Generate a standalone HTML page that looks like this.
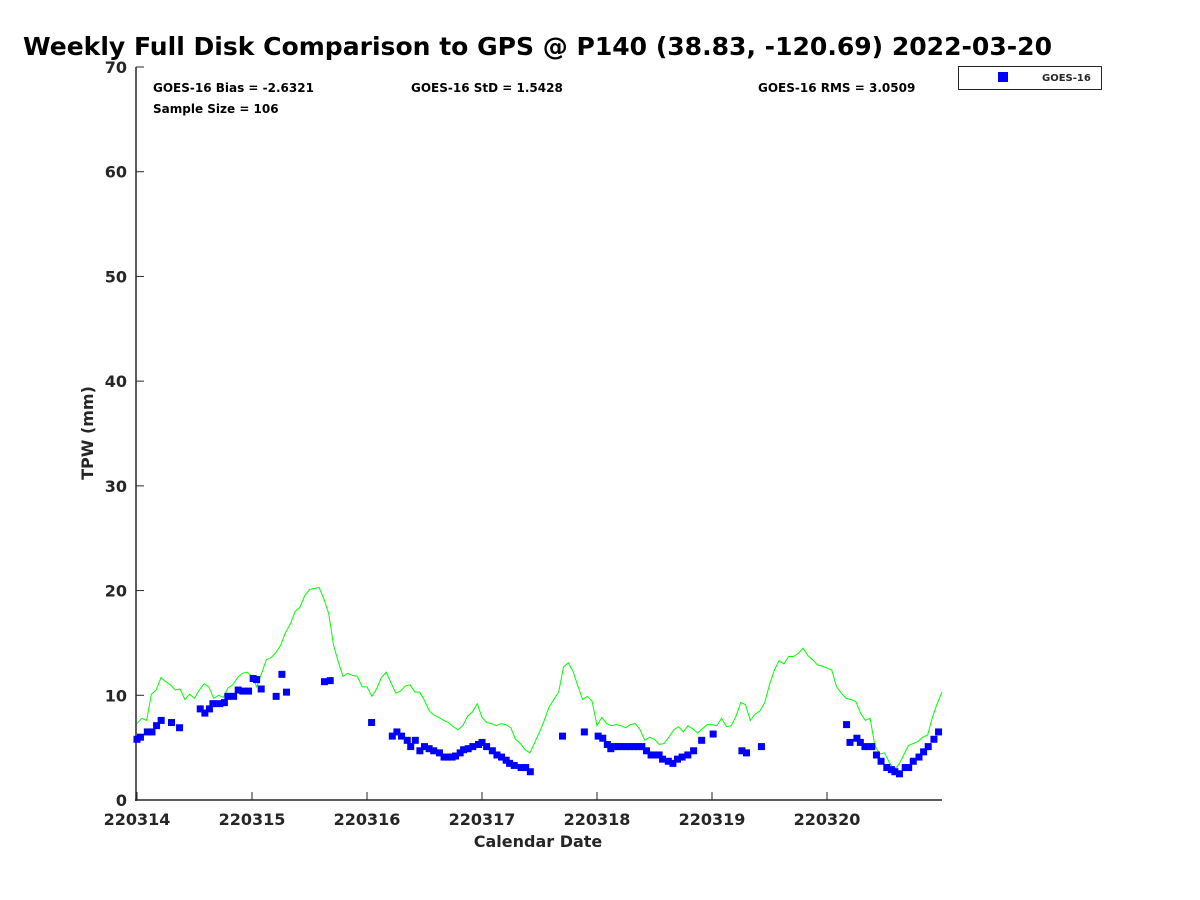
<!DOCTYPE html>
<html><head><meta charset="utf-8"><style>
html,body{margin:0;padding:0;background:#fff;}
svg{display:block;font-family:"DejaVu Sans","Liberation Sans",sans-serif;font-weight:bold;}
</style></head><body>
<svg id="chart" width="1200" height="900" viewBox="0 0 1200 900" xmlns="http://www.w3.org/2000/svg">
<rect width="1200" height="900" fill="#fff"/>
<text x="23" y="55" font-size="25" fill="#000" textLength="1029" lengthAdjust="spacingAndGlyphs">Weekly Full Disk Comparison to GPS @ P140 (38.83, -120.69) 2022-03-20</text>
<g id="axes"></g>
<g id="gps"></g>
<g id="goes"></g>
<text x="153" y="92" font-size="12" fill="#000">GOES-16 Bias = -2.6321</text>
<text x="411" y="92" font-size="12" fill="#000">GOES-16 StD = 1.5428</text>
<text x="758" y="92" font-size="12" fill="#000">GOES-16 RMS = 3.0509</text>
<text x="153" y="113" font-size="12" fill="#000">Sample Size = 106</text>
<g>
<rect x="958.5" y="66.5" width="143" height="23" fill="#fff" stroke="#262626" stroke-width="1"/>
<rect x="998" y="72" width="10" height="10" fill="#0000ff"/>
<text x="1042" y="81" font-size="10" fill="#262626">GOES-16</text>
</g>
<text x="538" y="847" font-size="16" fill="#262626" text-anchor="middle">Calendar Date</text>
<text x="0" y="0" font-size="16" fill="#262626" text-anchor="middle" transform="translate(93,433) rotate(-90)">TPW (mm)</text>
</svg>
<script>
const xTickLabels = ["220314","220315","220316","220317","220318","220319","220320"];
const yTicks = [0,10,20,30,40,50,60,70];
// GPS TPW hourly values (mm), starting at day 0 (220314 00Z)
const gpsStepHours = 1;
const gpsValues = [7.3,7.8,7.6,10.1,10.5,11.7,11.3,11,10.5,10.6,9.6,10.1,9.7,10.5,11.1,10.8,9.7,10,9.8,10.7,11,11.7,12.1,12.2,11.8,10.8,12.1,13.4,13.6,14.1,14.8,16,16.8,18,18.4,19.5,20.1,20.2,20.3,19.2,17.8,14.8,13.2,11.8,12.1,11.9,11.8,10.8,10.8,9.9,10.6,11.7,12.2,11.2,10.2,10.4,10.9,11,10.3,10.3,9.5,8.5,8.1,7.9,7.6,7.4,7,6.7,7.1,8,8.4,9.2,7.9,7.4,7.3,7.1,7.3,7.2,6.9,5.8,5.4,4.8,4.5,5.5,6.5,7.6,8.9,9.6,10.3,12.7,13.1,12.3,10.9,9.6,9.9,9.4,7.1,7.9,7.3,7.1,7.2,7.1,6.9,7.2,7.3,6.7,5.7,6,5.8,5.3,5.4,6,6.7,7,6.5,7.1,6.8,6.4,6.8,7.2,7.2,7.1,7.8,7,7.1,8,9.3,9.1,7.6,8.2,8.5,9.3,11,12.4,13.3,13,13.7,13.7,14,14.5,13.8,13.4,12.9,12.8,12.6,12.4,10.8,10.2,9.7,9.6,9.4,8.3,7.6,7.8,5.2,4.4,4.5,3.6,2.9,3.4,4.3,5.2,5.4,5.6,6,6.2,7.9,9.2,10.3];
// GOES-16 retrieval times (days since 220314) and TPW (mm)
const goesTimes = [0,.03,.09,.13,.17,.21,.30,.37,.55,.59,.63,.66,.72,.76,.79,.84,.88,.92,.97,1.01,1.04,1.08,1.21,1.26,1.30,1.63,1.68,2.04,2.22,2.26,2.30,2.35,2.38,2.42,2.46,2.50,2.54,2.58,2.63,2.67,2.70,2.74,2.77,2.81,2.84,2.88,2.92,2.97,3.00,3.04,3.09,3.13,3.17,3.21,3.24,3.28,3.34,3.38,3.42,3.70,3.89,4.01,4.05,4.09,4.12,4.15,4.18,4.22,4.25,4.29,4.32,4.36,4.39,4.43,4.47,4.50,4.54,4.57,4.62,4.66,4.70,4.74,4.79,4.84,4.91,5.01,5.26,5.30,5.43,6.17,6.20,6.26,6.29,6.33,6.39,6.43,6.47,6.52,6.56,6.59,6.63,6.68,6.71,6.75,6.80,6.84,6.88,6.93,6.97];
const goesValues = [5.8,6,6.5,6.5,7.1,7.6,7.4,6.9,8.7,8.3,8.7,9.2,9.2,9.3,9.9,9.9,10.5,10.4,10.4,11.6,11.5,10.6,9.9,12,10.3,11.3,11.4,7.4,6.1,6.5,6.1,5.7,5.1,5.7,4.7,5.1,4.9,4.7,4.5,4.1,4.1,4.1,4.2,4.5,4.8,4.9,5.1,5.3,5.5,5.1,4.7,4.3,4.1,3.8,3.5,3.3,3.1,3.1,2.7,6.1,6.5,6.1,5.9,5.3,4.9,5.1,5.1,5.1,5.1,5.1,5.1,5.1,5.1,4.7,4.3,4.3,4.3,3.9,3.7,3.5,3.9,4.1,4.3,4.7,5.7,6.3,4.7,4.5,5.1,7.2,5.5,5.9,5.5,5.1,5.1,4.3,3.7,3.1,2.9,2.7,2.5,3.1,3.1,3.7,4.1,4.6,5.1,5.8,6.5];

const NS = "http://www.w3.org/2000/svg";
const X0 = 137, X1 = 942, Y0 = 800, Y1 = 67, DAYS = 7, YMAX = 70;
function xScale(d){ return X0 + (X1 - X0) * d / DAYS; }
function yScale(v){ return Y0 - (Y0 - Y1) * v / YMAX; }
function mk(tag, attrs, parent){ const e = document.createElementNS(NS, tag); for (const k in attrs) e.setAttribute(k, attrs[k]); parent.appendChild(e); return e; }

const axes = document.getElementById('axes');
const yAxis = mk('line', {x1:136, y1:Y1, x2:136, y2:Y0+1, stroke:'#262626','stroke-width':1.5}, axes);


const xAxis = mk('line', {x1:135, y1:Y0, x2:X1, y2:Y0, stroke:'#262626','stroke-width':1.5}, axes);


yTicks.forEach(v => {
  const y = yScale(v);
  const t = mk('line', {x1:136, y1:y, x2:144, y2:y, stroke:'#262626','stroke-width':1}, axes);
  
  
  const l = mk('text', {x:127, y:y+6, 'font-size':16, fill:'#262626', 'text-anchor':'end'}, axes);
  l.textContent = v;
  
  
});
xTickLabels.forEach((lab, i) => {
  const x = xScale(i);
  const t = mk('line', {x1:x, y1:Y0, x2:x, y2:Y0-8, stroke:'#262626','stroke-width':1}, axes);
  
  
  const l = mk('text', {x:x, y:825, 'font-size':16, fill:'#262626', 'text-anchor':'middle'}, axes);
  l.textContent = lab;
  
  
});

const gps = document.getElementById('gps');
const pts = gpsValues.map((v, i) => xScale(i * gpsStepHours / 24).toFixed(1) + ',' + yScale(v).toFixed(1)).join(' ');
const line = mk('polyline', {points:pts, fill:'none', stroke:'#00ff00', 'stroke-width':1}, gps);



const goes = document.getElementById('goes');
goesTimes.forEach((t, i) => {
  const r = mk('rect', {x:xScale(t)-3.5, y:yScale(goesValues[i])-3.5, width:7, height:7, fill:'#0000ff'}, goes);
  
  
});
</script>
</body></html>
